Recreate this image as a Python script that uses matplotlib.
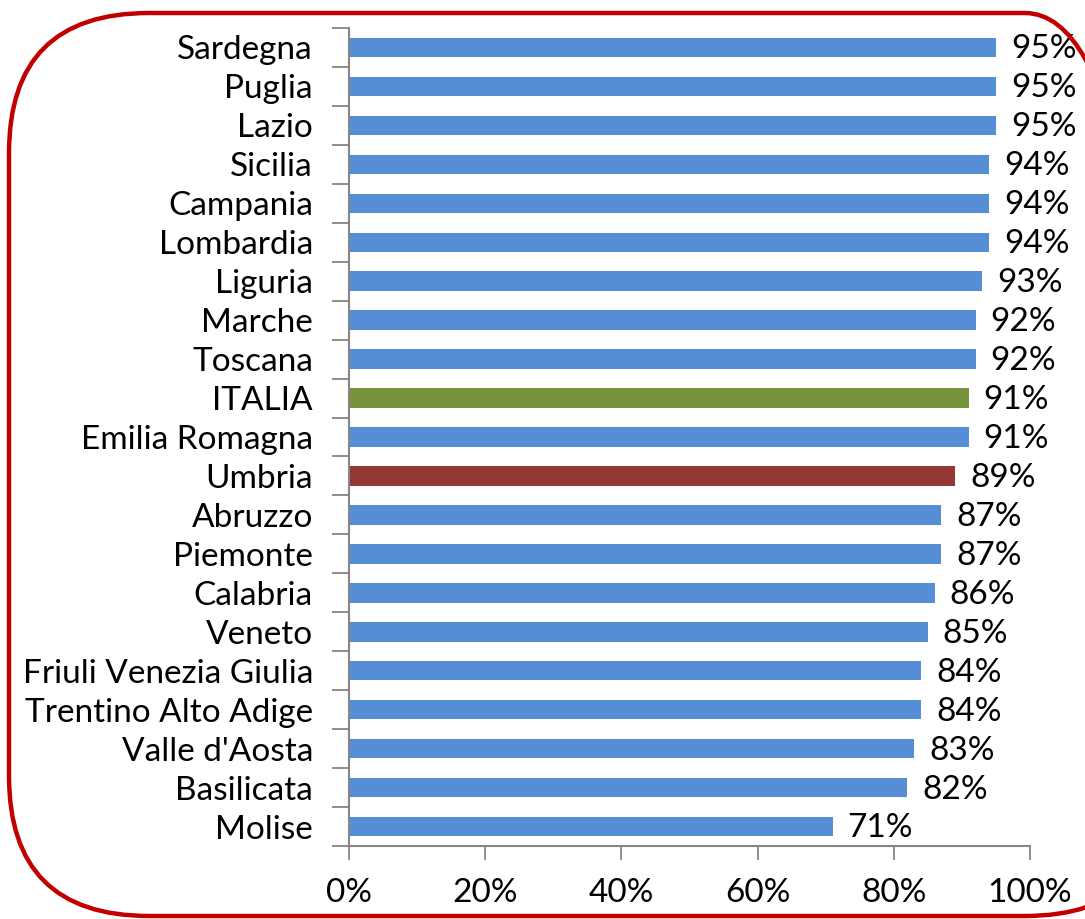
import matplotlib.pyplot as plt
from matplotlib.patches import FancyBboxPatch
from matplotlib.transforms import IdentityTransform
from matplotlib.ticker import FixedLocator, PercentFormatter

plt.rcParams['font.family'] = ['Lato', 'DejaVu Sans']

regions = ["Sardegna", "Puglia", "Lazio", "Sicilia", "Campania", "Lombardia",
           "Liguria", "Marche", "Toscana", "ITALIA", "Emilia Romagna", "Umbria",
           "Abruzzo", "Piemonte", "Calabria", "Veneto", "Friuli Venezia Giulia",
           "Trentino Alto Adige", "Valle d'Aosta", "Basilicata", "Molise"]
values = [95, 95, 95, 94, 94, 94, 93, 92, 92, 91, 91, 89, 87, 87, 86, 85, 84, 84, 83, 82, 71]

blue = "#558ED5"
colors = [blue] * len(regions)
colors[regions.index("ITALIA")] = "#77933C"
colors[regions.index("Umbria")] = "#953735"

W, H = 1085, 919
fig = plt.figure(figsize=(W / 100, H / 100), dpi=100)
ax = fig.add_axes([349 / W, 1 - 846 / H, 681 / W, 818 / H])

ypos = list(range(len(regions)))[::-1]
ax.barh(ypos, values, height=0.5, color=colors)
for y, v in zip(ypos, values):
    ax.text(v + 2.2, y - 0.05, f"{v}%", va="center", ha="left", fontsize=24)

ax.set_xlim(0, 100)
ax.set_ylim(-0.5, len(regions) - 0.5)
ax.xaxis.set_major_locator(FixedLocator([0, 20, 40, 60, 80, 100]))
ax.xaxis.set_major_formatter(PercentFormatter(decimals=0))
ax.set_yticks(ypos)
ax.set_yticklabels(regions)
ax.yaxis.set_minor_locator(FixedLocator([i - 0.5 for i in range(len(regions) + 1)]))
ax.tick_params(axis="y", which="major", length=0, pad=26, labelsize=24)
ax.tick_params(axis="y", which="minor", length=12, width=1.3, color="#868686")
ax.tick_params(axis="x", length=10, width=1.3, color="#868686", pad=13, labelsize=24)

for s in ["top", "right"]:
    ax.spines[s].set_visible(False)
for s in ["left", "bottom"]:
    ax.spines[s].set_color("#868686")
    ax.spines[s].set_linewidth(1.5)

# rounded red frame around the chart (pixel coords), runs off the right edge
frame = FancyBboxPatch((9, 3), 1156, 903, boxstyle="round,pad=0,rounding_size=140",
                       transform=IdentityTransform(), fill=False,
                       edgecolor="#C00000", linewidth=3.2, clip_on=False)
fig.patches.append(frame)

fig.savefig("out.png", dpi=100)
